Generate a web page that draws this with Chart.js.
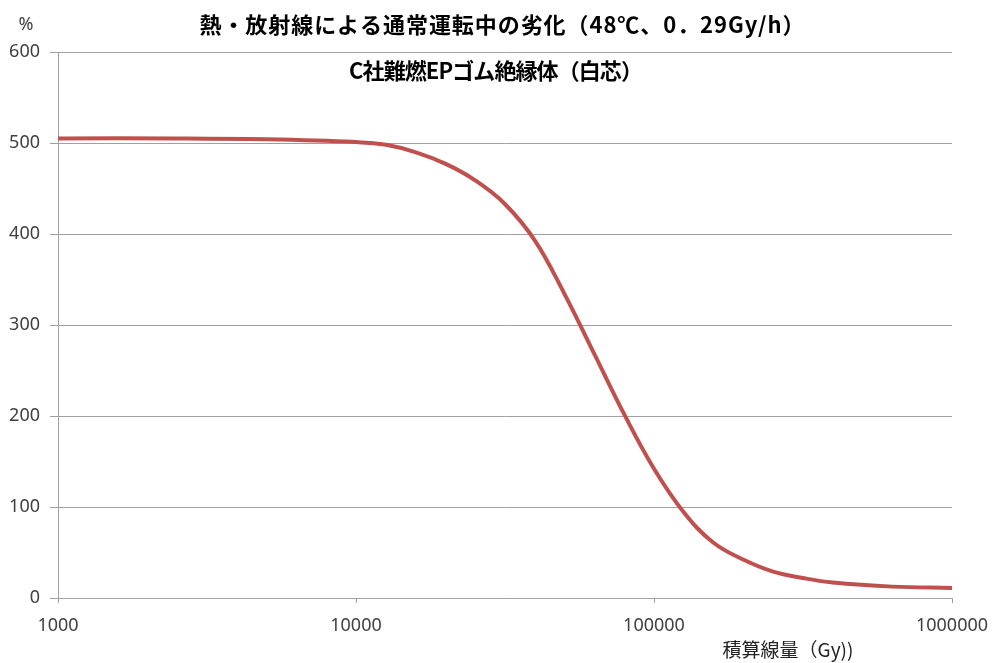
<!DOCTYPE html>
<html>
<head>
<meta charset="utf-8">
<script src="https://cdn.jsdelivr.net/npm/chart.js@4"></script>
<style>
  html, body { margin: 0; padding: 0; background: #fff; }
  #wrap { width: 995px; height: 663px; }
</style>
</head>
<body>
<div id="wrap"><canvas id="c" width="995" height="663"></canvas></div>
<script>
// 積算線量 (Gy) と 伸び残率 (%)
const doseGy = [1000, 2510, 5010, 10000, 12600, 15800, 20000, 25100, 31600, 39800, 50100, 63100, 79400, 100000, 126000, 158000, 200000, 251000, 316000, 398000, 631000, 1000000];
const elongation = [505, 505, 504, 501, 498, 490, 477, 459, 433, 393, 334, 268, 202, 142, 94, 61, 42, 29, 22, 17, 12.5, 11];
const xTicks = [1000, 10000, 100000, 1000000];
const yTicks = [0, 100, 200, 300, 400, 500, 600];

const titleText = '熱・放射線による通常運転中の劣化（48℃、0．29Gy/h）';
const subTitleText = 'C社難燃EPゴム絶縁体（白芯）';
const xTitleText = '積算線量（Gy))';
const yUnitText = '%';

const JP = '"Noto Sans CJK JP", "Noto Sans", sans-serif';
const NUM = '"Noto Sans", "Open Sans", sans-serif';
const GRID = '#a0a0a0';

// 文字列を指定幅に収まるよう字間を調整して描く
function fitText(ctx, text, cx, cy, width) {
  ctx.letterSpacing = '0px';
  const w = ctx.measureText(text).width;
  const n = Array.from(text).length;
  const sp = (width - w) / n;
  ctx.letterSpacing = sp + 'px';
  ctx.fillText(text, cx + sp / 2, cy);
  ctx.letterSpacing = '0px';
}

// タイトル類はキャンバスに直接描く
const textPlugin = {
  id: 'texts',
  afterDraw(chart) {
    const ctx = chart.ctx;
    ctx.save();
    ctx.fillStyle = '#000';
    ctx.textBaseline = 'middle';
    ctx.textAlign = 'center';
    ctx.font = 'bold 22px ' + JP;
    fitText(ctx, titleText, 502, 25, 606);
    fitText(ctx, subTitleText, 496, 71, 293);
    ctx.fillStyle = '#404040';
    ctx.font = '18px ' + NUM;
    ctx.fillText(yUnitText, 26, 25);
    ctx.font = '19px ' + JP;
    ctx.fillStyle = '#222';
    ctx.fillText(xTitleText, 788, 650);
    ctx.restore();
  }
};

const points = doseGy.map((d, i) => ({ x: d, y: elongation[i] }));

new Chart(document.getElementById('c'), {
  type: 'line',
  data: {
    datasets: [{
      data: points,
      borderColor: '#c0504d',
      borderWidth: 4,
      pointRadius: 0,
      fill: false,
      tension: 0.4,
    }],
  },
  options: {
    responsive: false,
    animation: false,
    events: [],
    layout: { padding: { top: 52, left: 0, right: 43, bottom: 0 } },
    plugins: {
      legend: { display: false },
      title: { display: false },
      tooltip: { enabled: false },
    },
    scales: {
      x: {
        type: 'logarithmic',
        min: 1000,
        max: 1000000,
        afterBuildTicks: (scale) => { scale.ticks = xTicks.map(v => ({ value: v })); },
        afterFit: (scale) => {
          scale.height = 65;
          scale.paddingLeft = 0;
          scale.paddingRight = 0;
        },
        ticks: {
          autoSkip: false,
          maxRotation: 0,
          padding: 12,
          color: '#404040',
          font: { family: NUM, size: 18 },
          callback: (v) => String(v),
        },
        grid: { drawOnChartArea: false, drawTicks: true, tickLength: 5, color: GRID },
        border: { color: GRID, width: 1 },
      },
      y: {
        min: 0,
        max: 600,
        afterBuildTicks: (scale) => { scale.ticks = yTicks.map(v => ({ value: v })); },
        afterFit: (scale) => { scale.width = 58; },
        ticks: {
          padding: 10,
          color: '#404040',
          font: { family: NUM, size: 18 },
        },
        grid: { color: GRID, tickLength: 8, lineWidth: 1 },
        border: { color: GRID, width: 1 },
      },
    },
  },
  plugins: [textPlugin],
});
</script>
</body>
</html>
